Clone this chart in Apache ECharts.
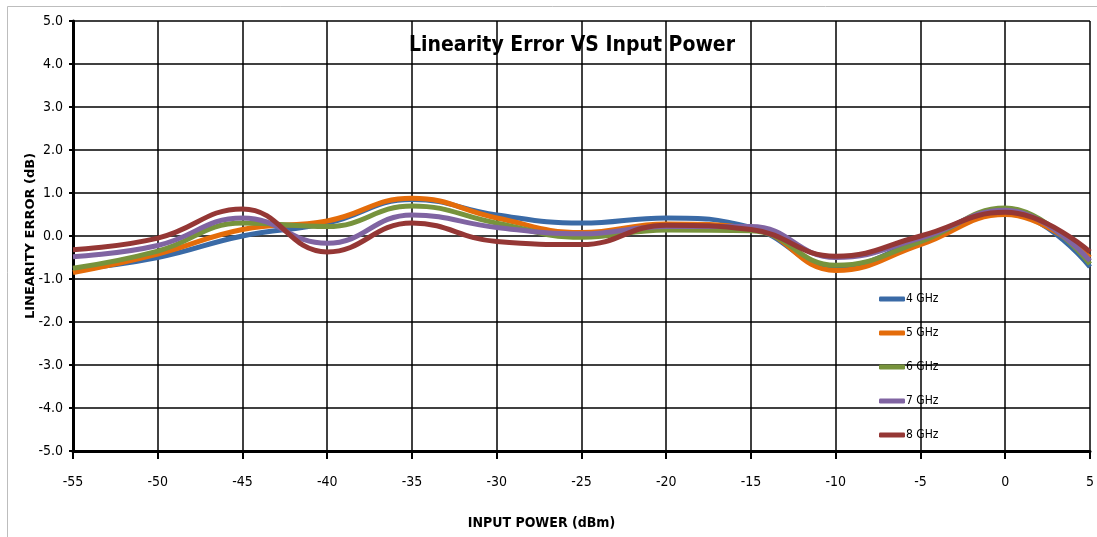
<!DOCTYPE html>
<html>
<head>
<meta charset="utf-8">
<script src="https://cdn.jsdelivr.net/npm/echarts@6/dist/echarts.min.js"></script>
<style>
  html, body { margin: 0; padding: 0; background: #fff; }
  #chart { width: 1097px; height: 537px; }
</style>
</head>
<body>
<div id="chart"></div>
<script>
// input power (dBm)
const power = [-55, -50, -45, -40, -35, -30, -25, -20, -15, -10, -5, 0, 5]
// linearity error (dB) per frequency
const ghz4 = [-0.78, -0.5, 0.0, 0.3, 0.85, 0.49, 0.3, 0.42, 0.2, -0.72, -0.1, 0.55, -0.72]
const ghz5 = [-0.85, -0.42, 0.15, 0.35, 0.88, 0.42, 0.08, 0.28, 0.18, -0.8, -0.2, 0.5, -0.5]
const ghz6 = [-0.75, -0.35, 0.3, 0.22, 0.7, 0.3, -0.03, 0.14, 0.12, -0.68, -0.13, 0.65, -0.65]
const ghz7 = [-0.48, -0.22, 0.42, -0.17, 0.49, 0.2, 0.05, 0.22, 0.22, -0.5, -0.05, 0.6, -0.58]
const ghz8 = [-0.32, -0.05, 0.63, -0.37, 0.3, -0.13, -0.2, 0.25, 0.15, -0.47, 0.0, 0.55, -0.37]
const seriesNames = ['4 GHz', '5 GHz', '6 GHz', '7 GHz', '8 GHz']
const seriesData = [ghz4, ghz5, ghz6, ghz7, ghz8]
const colors = ['#3a6aa6', '#e46c0a', '#77933c', '#8064a2', '#953735']

const font = "'DejaVu Sans Condensed', 'Liberation Sans', sans-serif"

let chart = echarts.init(document.getElementById('chart'))
let option = {
  backgroundColor: '#fff',
  animation: false,
  color: colors,
  title: {
    text: 'Linearity Error VS Input Power',
    left: 567,
    top: 30,
    textAlign: 'center',
    textStyle: { fontFamily: font, fontSize: 21, fontWeight: 'bold', color: '#000' }
  },
  legend: {
    orient: 'vertical',
    left: 874,
    top: 288,
    itemWidth: 26,
    itemHeight: 5,
    itemGap: 22,
    textStyle: { fontFamily: font, fontSize: 12, color: '#000', padding: [0, 0, 0, -4] },
    icon: 'roundRect',
    data: seriesNames
  },
  graphic: [{
    type: 'rect',
    shape: { x: 7.5, y: 6.5, width: 1100, height: 540 },
    style: { fill: 'none', stroke: '#bdbdbd', lineWidth: 1 },
    silent: true
  }],
  grid: { left: 73, right: 5, top: 21, bottom: 86 },
  xAxis: {
    type: 'value',
    min: -55,
    max: 5,
    interval: 5,
    name: 'INPUT POWER (dBm)',
    nameLocation: 'middle',
    nameGap: 65,
    nameTextStyle: { fontFamily: font, fontSize: 14, fontWeight: 'bold', color: '#000', padding: [0, 80, 0, 0] },
    axisLine: { show: true, onZero: false, lineStyle: { color: '#000', width: 3 } },
    axisTick: { show: true, length: 8, inside: false, lineStyle: { color: '#000', width: 2 } },
    axisLabel: { fontFamily: font, fontSize: 14, color: '#000', margin: 24 },
    splitLine: { show: true, lineStyle: { color: '#000', width: 1.5 } }
  },
  yAxis: {
    type: 'value',
    min: -5,
    max: 5,
    interval: 1,
    name: 'LINEARITY ERROR (dB)',
    nameLocation: 'middle',
    nameGap: 36,
    nameMoveOverlap: false,
    nameTextStyle: { fontFamily: "'DejaVu Sans', sans-serif", fontSize: 13, fontWeight: 'bold', color: '#000' },
    axisLine: { show: true, onZero: false, lineStyle: { color: '#000', width: 3 } },
    axisTick: { show: true, length: 4, lineStyle: { color: '#000', width: 2 } },
    axisLabel: {
      fontFamily: font, fontSize: 14, color: '#000', margin: 10,
      formatter: v => v.toFixed(1)
    },
    splitLine: { show: true, lineStyle: { color: '#000', width: 1.5 } }
  },
  series: seriesNames.map((name, i) => ({
    name: name,
    type: 'line',
    smooth: 0.45,
    showSymbol: false,
    symbol: 'none',
    lineStyle: { width: 5, color: colors[i] },
    data: power.map((p, j) => [p, seriesData[i][j]])
  }))
}
chart.setOption(option)
window.addEventListener('resize', () => {
  chart && chart.resize()
})
</script>
</body>
</html>
